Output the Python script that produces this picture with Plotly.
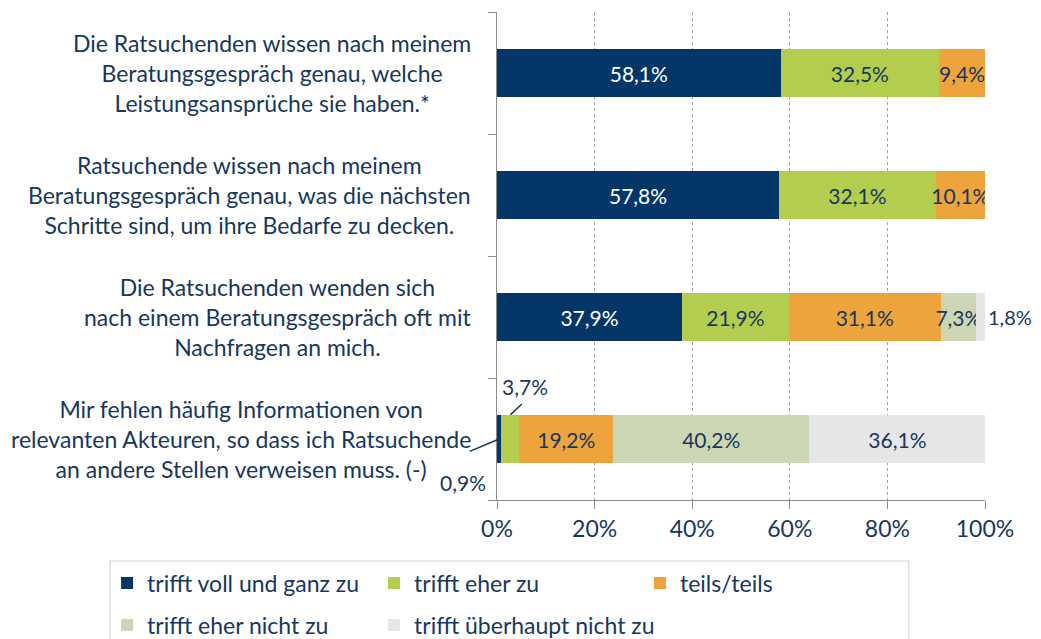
import plotly.graph_objects as go

categories = [
    "Die Ratsuchenden wissen nach meinem<br>Beratungsgespräch genau, welche<br>Leistungsansprüche sie haben.*",
    "Ratsuchende wissen nach meinem<br>Beratungsgespräch genau, was die nächsten<br>Schritte sind, um ihre Bedarfe zu decken.",
    "Die Ratsuchenden wenden sich<br>nach einem Beratungsgespräch oft mit<br>Nachfragen an mich.",
    "Mir fehlen häufig Informationen von<br>relevanten Akteuren, so dass ich Ratsuchende<br>an andere Stellen verweisen muss. (-)",
]
series_names = ["trifft voll und ganz zu", "trifft eher zu", "teils/teils",
                "trifft eher nicht zu", "trifft überhaupt nicht zu"]
voll = [58.1, 57.8, 37.9, 0.9]
eher = [32.5, 32.1, 21.9, 3.7]
teils = [9.4, 10.1, 31.1, 19.2]
eher_nicht = [0.0, 0.0, 7.3, 40.2]
ueberhaupt_nicht = [0.0, 0.0, 1.8, 36.1]
x_ticks = [0, 20, 40, 60, 80, 100]
x_tick_labels = ["0%", "20%", "40%", "60%", "80%", "100%"]

colors = ["#043767", "#B3CE4E", "#EDA43C", "#CDD6B4", "#E6E6E6"]
navy = "#17375E"
FONT = "Lato"
FS = 23      # category labels, ticks, legend
VFS = 21     # value labels

ids = list(range(len(categories)))
all_series = [voll, eher, teils, eher_nicht, ueberhaupt_nicht]
legend_ids = ["legend", "legend2", "legend3", "legend4", "legend5"]
# legend placement (paper coords): column x, row y
legend_x = [-0.799, -0.252, 0.293, -0.799, -0.252]
legend_y = [-0.170, -0.170, -0.170, -0.256, -0.256]


def fmt(v):
    return f"{v:.1f}".replace(".", ",") + "%"


fig = go.Figure()
for k, (name, vals, col) in enumerate(zip(series_names, all_series, colors)):
    texts = [fmt(v) if v >= 5 else "" for v in vals]
    fig.add_trace(go.Bar(
        y=ids, x=vals, name=name, orientation="h",
        marker=dict(color=col, line=dict(width=0)),
        text=texts, textposition="inside", insidetextanchor="middle",
        constraintext="none", textangle=0,
        textfont=dict(family=FONT, size=VFS, color="white" if k == 0 else navy),
        hoverinfo="skip", legend=legend_ids[k],
    ))

annotations = []
for i, cat in enumerate(categories):
    annotations.append(dict(
        xref="paper", yref="y", x=0, y=i, xanchor="right", yanchor="middle",
        xshift=-24, text=cat, align="center", showarrow=False,
        font=dict(family=FONT, size=FS, color=navy)))

# small value labels
annotations.append(dict(xref="x", yref="y", x=100, y=2, xanchor="left", yanchor="middle",
                        xshift=1, text=fmt(ueberhaupt_nicht[2]), showarrow=False,
                        font=dict(family=FONT, size=VFS - 1, color=navy)))
# 3,7% with leader line
annotations.append(dict(xref="x", yref="y", x=voll[3] + eher[3] / 2, y=2.8, text="",
                        showarrow=True, arrowhead=0, arrowwidth=1.5, arrowcolor=navy,
                        ax=13, ay=-12, standoff=0, startstandoff=0))
annotations.append(dict(xref="x", yref="y", x=voll[3] + eher[3] / 2, y=2.57,
                        xanchor="center", yanchor="middle", xshift=15,
                        text=fmt(eher[3]), showarrow=False,
                        font=dict(family=FONT, size=VFS, color=navy)))
# 0,9% with leader line
annotations.append(dict(xref="x", yref="y", x=voll[3] / 2, y=3.0, text="",
                        showarrow=True, arrowhead=0, arrowwidth=1.5, arrowcolor=navy,
                        ax=-31, ay=13, standoff=0, startstandoff=0))
annotations.append(dict(xref="x", yref="y", x=0, y=3.36, xanchor="right", yanchor="middle",
                        xshift=-9, text=fmt(voll[3]), showarrow=False,
                        font=dict(family=FONT, size=VFS, color=navy)))

legends = {}
for lid, lx, ly in zip(legend_ids, legend_x, legend_y):
    legends[lid] = dict(orientation="h", x=lx, y=ly, xanchor="left", yanchor="middle",
                        borderwidth=0, bgcolor="rgba(0,0,0,0)",
                        font=dict(family=FONT, size=FS, color=navy), itemclick=False)

fig.update_layout(
    barmode="stack", bargap=0.6,
    width=1025, height=639,
    margin=dict(l=489, r=48, t=4, b=147, autoexpand=False),
    paper_bgcolor="white", plot_bgcolor="white",
    font=dict(family=FONT, size=FS, color=navy),
    showlegend=True,
    annotations=annotations,
    shapes=[dict(type="rect", xref="paper", yref="paper", x0=-0.793, x1=0.844,
                 y0=-0.45, y1=-0.125, line=dict(color="#D0D0D0", width=1),
                 fillcolor="rgba(0,0,0,0)", layer="below")],
    xaxis=dict(range=[0, 100], tickvals=x_ticks, ticktext=x_tick_labels,
               showgrid=True, gridcolor="#A0A0A0", griddash="dot", gridwidth=1,
               showline=True, linecolor="#8C8C8C", linewidth=1,
               ticks="outside", ticklen=8, tickcolor="#8C8C8C",
               tickfont=dict(family=FONT, size=FS, color=navy), zeroline=False),
    yaxis=dict(type="category", autorange="reversed", showticklabels=False,
               tickvals=ids, ticks="outside", ticklen=8, tickson="boundaries",
               tickcolor="#8C8C8C", showline=True, linecolor="#8C8C8C",
               showgrid=False, zeroline=False),
    **legends,
)

fig.write_html("out.html")
